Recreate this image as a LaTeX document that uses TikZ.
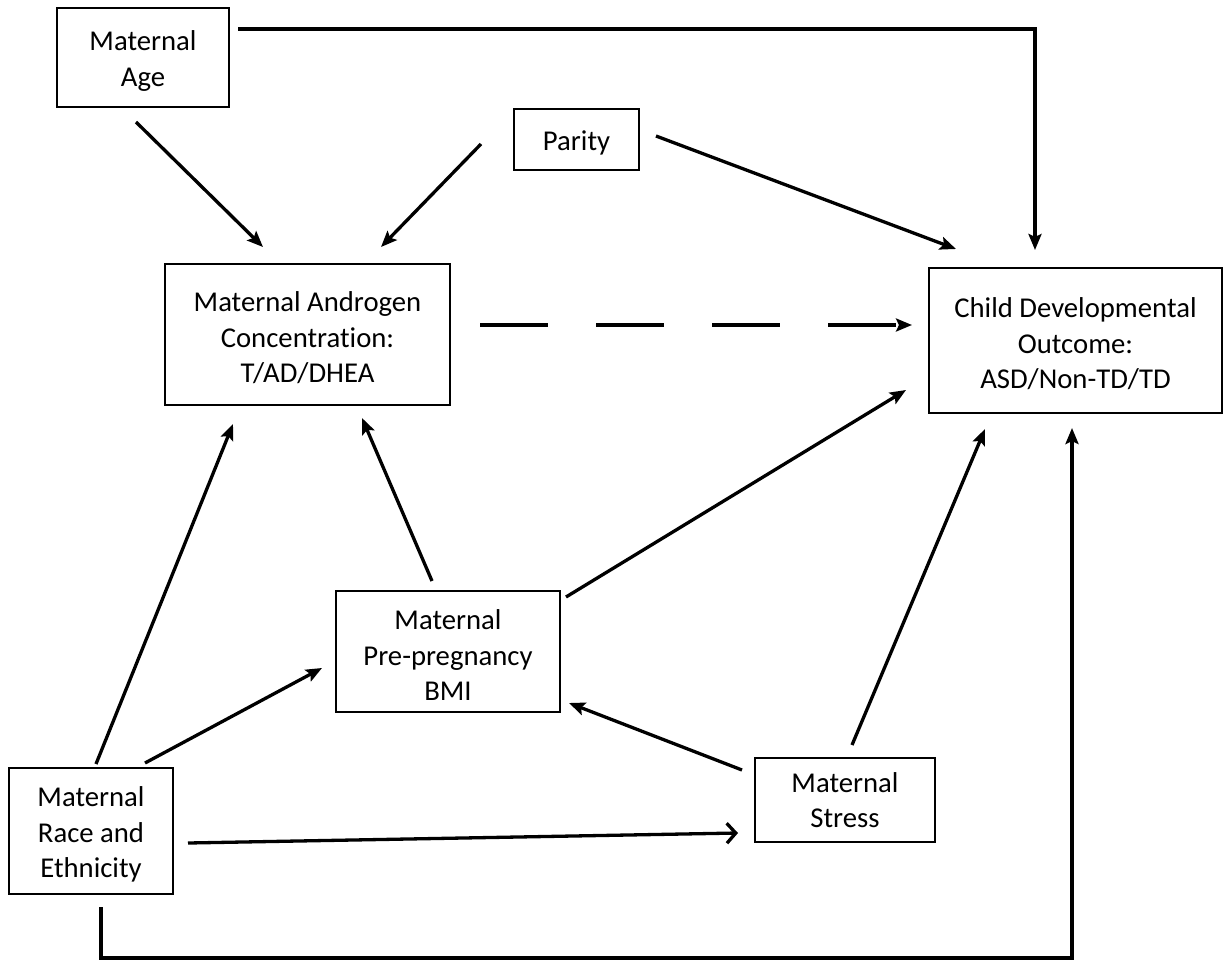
\documentclass[tikz,border=0pt]{standalone}
\usepackage{fontspec}
\setmainfont[Ligatures=NoCommon]{Carlito}
\usetikzlibrary{arrows.meta}
\newcommand{\topstrut}{\rule{0pt}{27pt}}
\begin{document}
\begin{tikzpicture}[x=1pt,y=-1pt,
  box/.style={draw,line width=1.8pt,inner sep=0pt,align=center,
    font=\fontsize{28.7}{35.5}\selectfont},
  conn/.style={line width=3.3pt,-{Stealth[length=16pt,width=13pt,inset=3pt]}},
  openconn/.style={line width=3.3pt,-{Straight Barb[length=9pt,width=20pt]}}]
\useasboundingbox (0,0) rectangle (1226,961);
\fill[white] (0,0) rectangle (1226,961);
\node[box,minimum width=172pt,minimum height=99pt] (age) at (143,57.5) {\topstrut Maternal\\Age};
\node[box,minimum width=125pt,minimum height=61pt] (parity) at (576.5,139.5) {\topstrut Parity};
\node[box,minimum width=285pt,minimum height=141pt] (andro) at (307.5,334.5) {\topstrut Maternal Androgen\\Concentration:\\T/AD/DHEA};
\node[box,minimum width=293pt,minimum height=145pt] (child) at (1075.5,340.5) {\topstrut Child Developmental\\Outcome:\\ASD/Non-TD/TD};
\node[box,minimum width=224pt,minimum height=121pt] (bmi) at (448,651.5) {\topstrut Maternal\\Pre-pregnancy\\BMI};
\node[box,minimum width=164pt,minimum height=126pt] (race) at (91,831) {\topstrut Maternal\\Race and\\Ethnicity};
\node[box,minimum width=180pt,minimum height=84pt] (stress) at (845,800) {Maternal\\Stress};

\draw[conn] ([shift={(95,-28.5)}]age.center) -| ([shift={(-40.5,-90.5)}]child.center);
\draw[conn] ([shift={(-7,64.5)}]age.center) -- ([shift={(-44.5,-87.5)}]andro.center);
\draw[conn] ([shift={(-95.5,4.5)}]parity.center) -- ([shift={(73.5,-87.5)}]andro.center);
\draw[conn] ([shift={(79.5,-3.5)}]parity.center) -- ([shift={(-119.5,-91.5)}]child.center);
\draw[conn,dash pattern=on 68pt off 48pt] ([shift={(172.5,-9.5)}]andro.center) -- ([shift={(-163.5,-15.5)}]child.center);
\draw[conn] ([shift={(-16,-70.5)}]bmi.center) -- ([shift={(54.5,83.5)}]andro.center);
\draw[conn] ([shift={(118,-54.5)}]bmi.center) -- ([shift={(-169.5,49.5)}]child.center);
\draw[conn] ([shift={(5,-67)}]race.center) -- ([shift={(-74.5,89.5)}]andro.center);
\draw[conn] ([shift={(54,-68)}]race.center) -- ([shift={(-126,16.5)}]bmi.center);
\draw[openconn] ([shift={(97,12)}]race.center) -- ([shift={(-107,33)}]stress.center);
\draw[conn] ([shift={(10,76)}]race.center) -- ++(0,51) -| ([shift={(-3.5,87.5)}]child.center);
\draw[conn] ([shift={(-103,-30)}]stress.center) -- ([shift={(121,51.5)}]bmi.center);
\draw[conn] ([shift={(7,-55)}]stress.center) -- ([shift={(-90.5,88.5)}]child.center);
\end{tikzpicture}
\end{document}
